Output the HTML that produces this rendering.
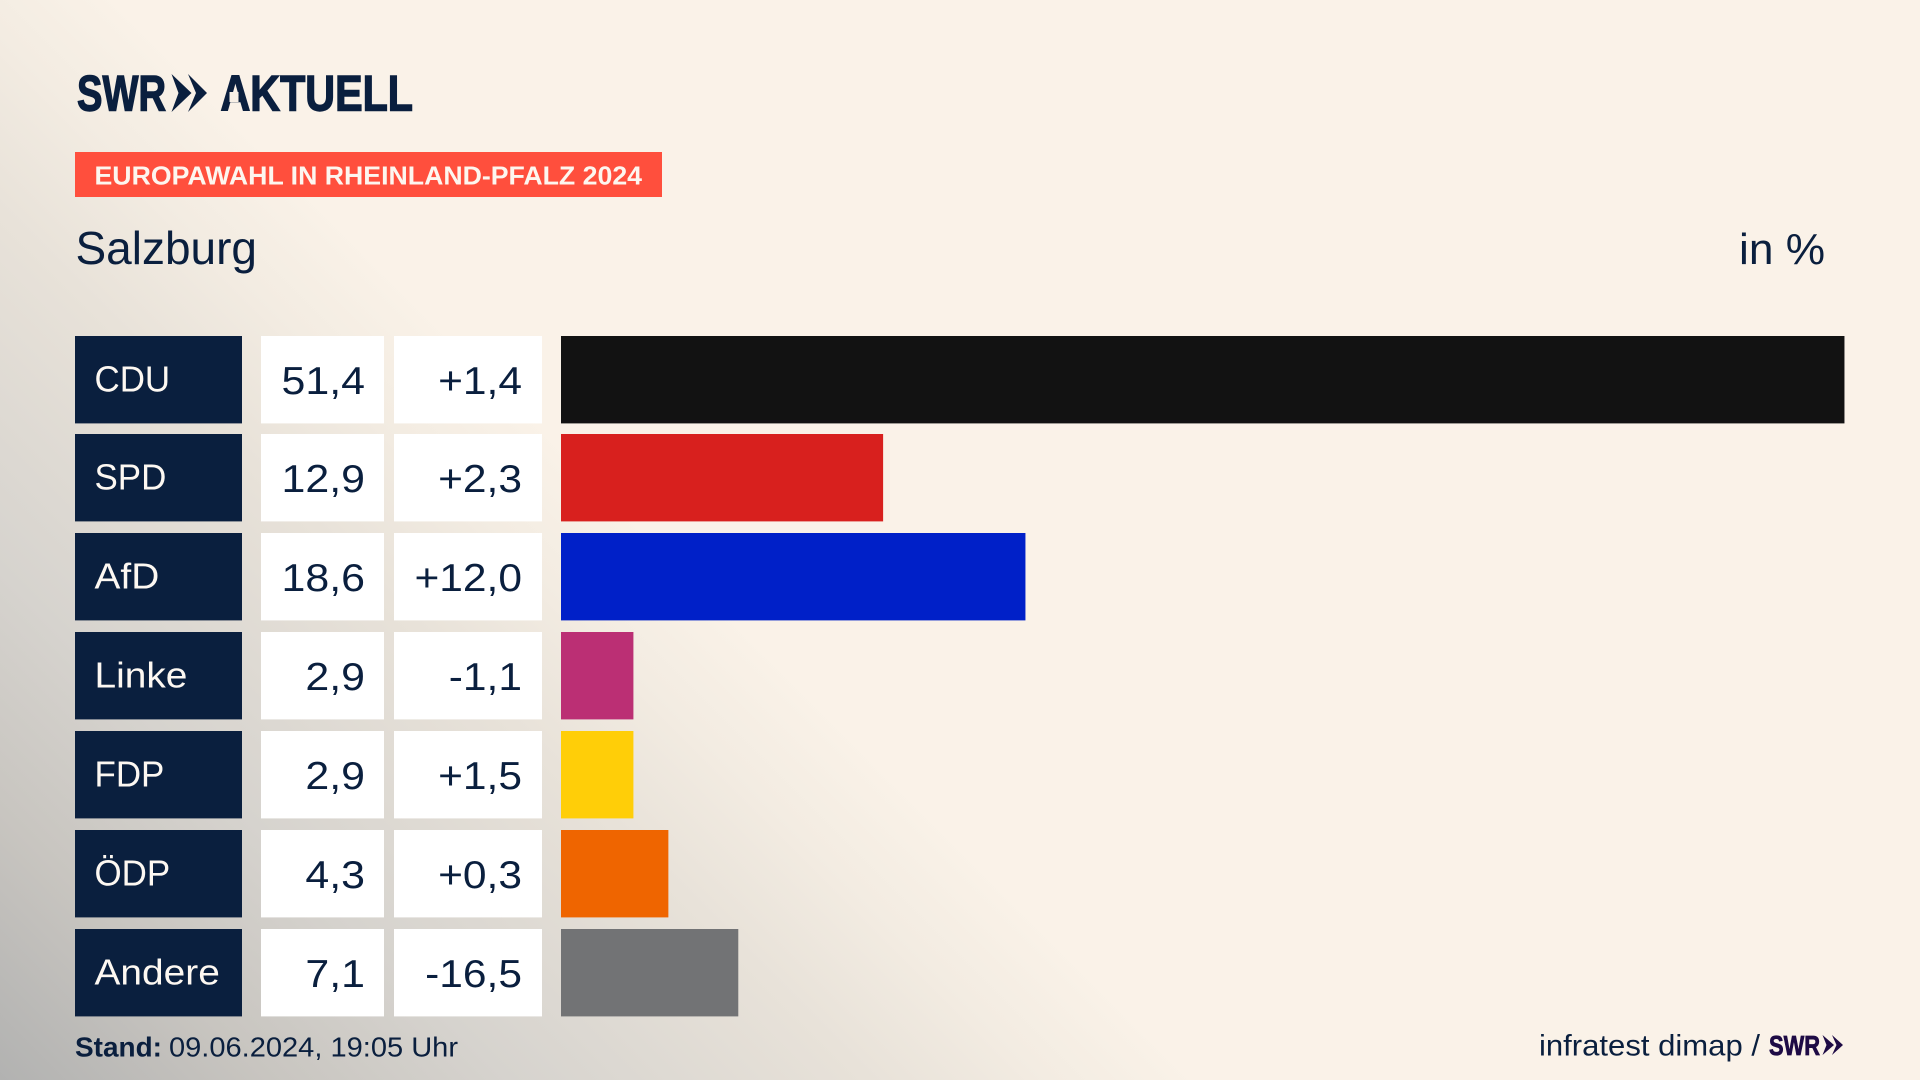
<!DOCTYPE html>
<html lang="de">
<head>
<meta charset="utf-8">
<title>Europawahl in Rheinland-Pfalz 2024 – Salzburg</title>
<style>
html,body{margin:0;padding:0;width:1920px;height:1080px;overflow:hidden;background:#faf2e8}
#bg{position:absolute;left:0;top:0;width:1920px;height:1080px;
background:linear-gradient(225deg,#faf2e8 0%,#faf2e8 60%,#f3ece2 65%,#e8e2d9 71%,#d6d3ce 83%,#c8c5c0 91%,#b2b2b1 100%)}
svg{position:absolute;left:0;top:0}
text{font-family:"Liberation Sans",sans-serif}
</style>
</head>
<body>
<div id="bg"></div>
<svg id="chart" width="1920" height="1080" viewBox="0 0 1920 1080">
  <g fill="#0a1f3e">
    <text x="77" y="110.5" font-size="50" font-weight="700" stroke="#0a1f3e" stroke-width="1.4" textLength="89" lengthAdjust="spacingAndGlyphs">SWR</text>
    <polygon points="171.5,74 191.5,93 171.5,112 178.5,93"/>
    <polygon points="188,74 207,93 188,112 196,93"/>
    <text x="220.5" y="110.5" font-size="50" font-weight="700" stroke="#0a1f3e" stroke-width="1.4" textLength="192.5" lengthAdjust="spacingAndGlyphs">AKTUELL</text>
    <rect x="229.5" y="92" width="9" height="10" fill="#f8f0e6"/>
  </g>
  <rect x="75" y="152" width="587" height="45" fill="#ff4f3d"/>
  <text x="94.5" y="184.5" font-size="26" font-weight="700" fill="#fdf6ef" textLength="547.5" lengthAdjust="spacingAndGlyphs">EUROPAWAHL IN RHEINLAND-PFALZ 2024</text>
  <text x="75.5" y="264" font-size="46" fill="#0a1f3e" textLength="181.5" lengthAdjust="spacingAndGlyphs">Salzburg</text>
  <text x="1739" y="264" font-size="44" fill="#0a1f3e" textLength="86" lengthAdjust="spacingAndGlyphs">in %</text>
  <g id="rows"></g>
  <text y="1056.5" font-size="28" fill="#0a1f3e"><tspan x="75" font-weight="700" textLength="87" lengthAdjust="spacingAndGlyphs">Stand:</tspan><tspan x="169" textLength="289" lengthAdjust="spacingAndGlyphs">09.06.2024, 19:05 Uhr</tspan></text>
  <text x="1539" y="1055.5" font-size="30" fill="#0a1f3e" textLength="221" lengthAdjust="spacingAndGlyphs">infratest dimap /</text>
  <g fill="#1e0b45">
    <text x="1769" y="1055" font-size="28" font-weight="700" stroke="#1e0b45" stroke-width=".8" textLength="51" lengthAdjust="spacingAndGlyphs">SWR</text>
    <polygon points="1822.5,1035 1834,1045 1822.5,1055 1826.5,1045"/>
    <polygon points="1832,1035 1843,1045 1832,1055 1836.5,1045"/>
  </g>
</svg>
<script>
const parties = ["CDU","SPD","AfD","Linke","FDP","ÖDP","Andere"];
const shares = [51.4,12.9,18.6,2.9,2.9,4.3,7.1];
const changes = [1.4,2.3,12.0,-1.1,1.5,0.3,-16.5];
const partyColors = ["#121212","#d8201e","#0020c8","#bb2f74","#ffce08","#ef6500","#727375"];

const NS = "http://www.w3.org/2000/svg";
const rows = document.getElementById("rows");
const xOrigin = 561;
const pxPerPoint = 24.97;
const rowTop = 335.5;
const rowPitch = 98.85;
const rowHeight = 87.4;
const ink = "#0a1f3e";

function xScale(v){ return xOrigin + v * pxPerPoint; }
function yScale(i){ return Math.round(rowTop + i * rowPitch); }
function fmtShare(v){ return v.toFixed(1).replace(".", ","); }
function fmtChange(v){ return (v > 0 ? "+" : "") + v.toFixed(1).replace(".", ","); }
function labelStretch(s){ return /^[A-ZÖ]+$/.test(s) ? 0.97 : 1.08; }
function makeRect(x, y, w, h, fill){
  const r = document.createElementNS(NS, "rect");
  r.setAttribute("x", x);
  r.setAttribute("y", y);
  r.setAttribute("width", w);
  r.setAttribute("height", h);
  r.setAttribute("fill", fill);
  rows.appendChild(r);
  return r;
}
function makeText(str, x, y, size, fill, anchor, sx){
  const t = document.createElementNS(NS, "text");
  t.textContent = str;
  t.setAttribute("transform", "translate(" + x + "," + y + ") scale(" + sx + ",1)");
  t.setAttribute("font-size", size);
  t.setAttribute("fill", fill);
  t.setAttribute("text-anchor", anchor);
  rows.appendChild(t);
  return t;
}

parties.forEach(function(party, i){
  const y = yScale(i);
  const labelBox = makeRect(75, y, 167, rowHeight, ink);
  
  
  const label = makeText(party, 94.5, y + 55.7, 36, "#fdf8f2", "start", labelStretch(party));
  
  
  const shareBox = makeRect(261, y, 123, rowHeight, "#ffffff");
  
  
  const shareText = makeText(fmtShare(shares[i]), 365, y + 58, 39, ink, "end", 1.1);
  
  
  const changeBox = makeRect(394, y, 148, rowHeight, "#ffffff");
  
  
  const changeText = makeText(fmtChange(changes[i]), 522, y + 58, 39, ink, "end", 1.09);
  
  
  const bar = makeRect(xOrigin, y, xScale(shares[i]) - xOrigin, rowHeight, partyColors[i]);
  
  
});
</script>
</body>
</html>
